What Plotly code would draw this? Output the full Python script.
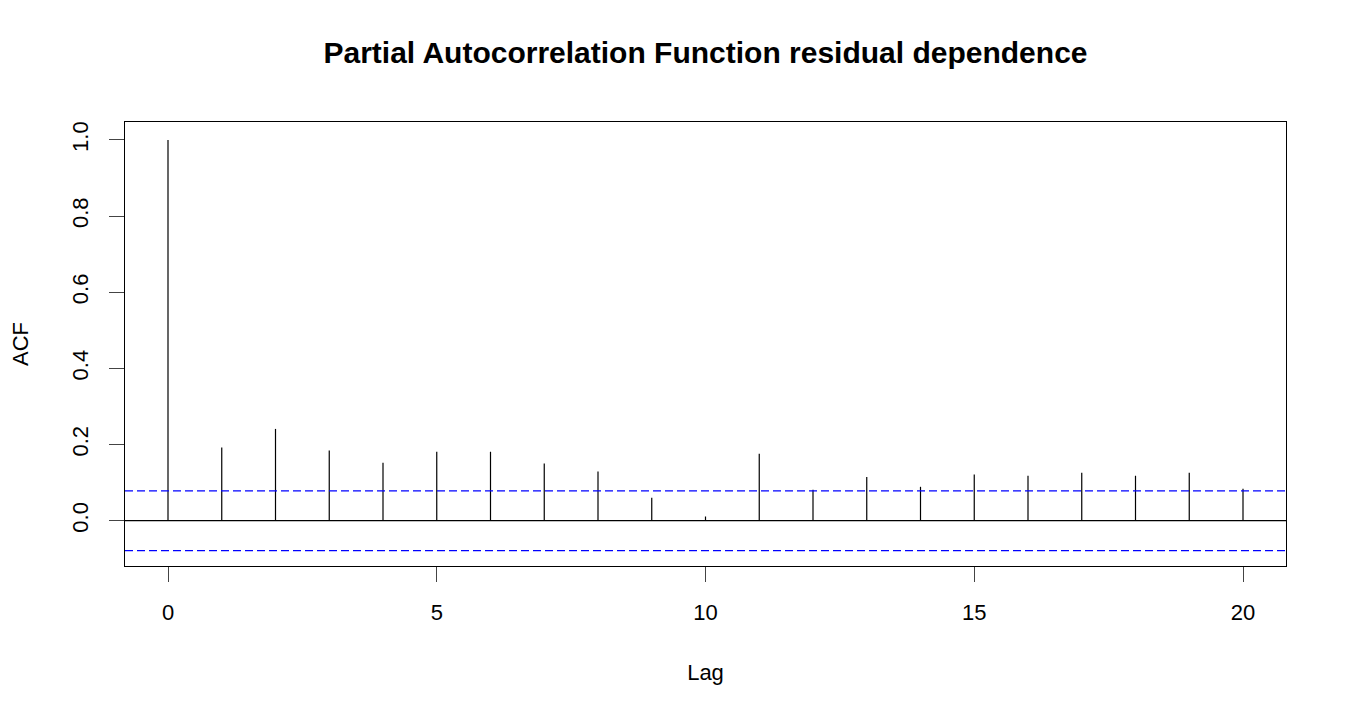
import plotly.graph_objects as go

# partial autocorrelation values
lags = list(range(0, 21))
acf_vals = [1.0, 0.192, 0.241, 0.184, 0.152, 0.181, 0.181, 0.150, 0.129, 0.060,
            0.011, 0.176, 0.081, 0.115, 0.089, 0.121, 0.118, 0.126, 0.118, 0.126, 0.084]
ci_bound = 0.0785

x_ticks = [0, 5, 10, 15, 20]
y_ticks = [0.0, 0.2, 0.4, 0.6, 0.8, 1.0]
y_ticklabels = ["0.0", "0.2", "0.4", "0.6", "0.8", "1.0"]

# build vertical spikes from 0 to each value
spike_x, spike_y = [], []
for lag, v in zip(lags, acf_vals):
    spike_x += [lag, lag, None]
    spike_y += [0, v, None]

fig = go.Figure()
fig.add_trace(go.Scatter(x=spike_x, y=spike_y, mode="lines",
                         line=dict(color="black", width=1.2), hoverinfo="skip"))

x_lo, x_hi = -0.8, 20.8
fig.add_trace(go.Scatter(x=[x_lo, x_hi], y=[0, 0], mode="lines",
                         line=dict(color="black", width=1.2), hoverinfo="skip"))
for b in (ci_bound, -ci_bound):
    fig.add_trace(go.Scatter(x=[x_lo, x_hi], y=[b, b], mode="lines",
                             line=dict(color="blue", width=1.2, dash="8px,4px"),
                             hoverinfo="skip"))

font = "Liberation Sans, Arial, sans-serif"
# page body has an 8px margin, so the plot box is shifted by that amount
fig.update_layout(
    width=1350, height=720,
    margin=dict(l=115, r=72, t=114, b=162),
    paper_bgcolor="white", plot_bgcolor="white",
    showlegend=False,
    font=dict(family=font, size=22, color="black"),
    title=dict(text="<b>Partial Autocorrelation Function residual dependence</b>",
               xref="paper", x=0.5, xanchor="center", y=1 - 44 / 720, yanchor="middle",
               font=dict(size=30, family=font, color="black")),
)
fig.update_xaxes(range=[x_lo, x_hi], tickvals=x_ticks, ticks="outside", ticklen=15,
                 ticklabelstandoff=12,
                 showgrid=False, zeroline=False, showline=True, linecolor="black",
                 linewidth=1, mirror=True,
                 title=dict(text="Lag", standoff=40, font=dict(size=22)))
fig.update_yaxes(range=[-0.119, 1.047], tickvals=y_ticks, ticktext=y_ticklabels,
                 tickangle=-90, ticks="outside", ticklen=15, ticklabelstandoff=12,
                 showgrid=False, zeroline=False, showline=True, linecolor="black",
                 linewidth=1, mirror=True,
                 title=dict(text="ACF", standoff=33, font=dict(size=22)))

fig.write_html("out.html")
